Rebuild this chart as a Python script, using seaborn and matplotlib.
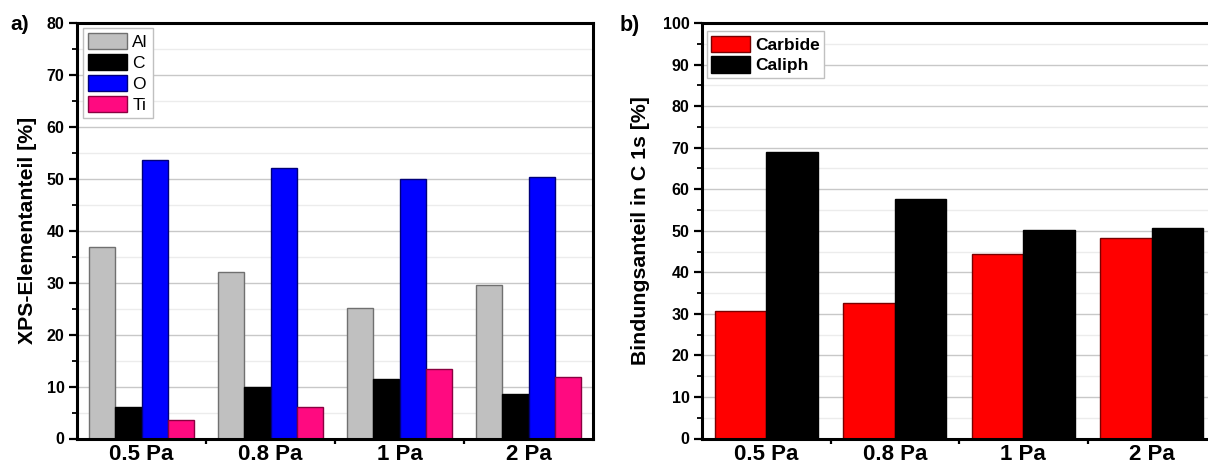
import numpy as np
import pandas as pd
import matplotlib
matplotlib.use("Agg")
import matplotlib.pyplot as plt
from matplotlib.patches import Patch
from matplotlib.ticker import MultipleLocator, FixedLocator
import seaborn as sns

# XPS element fractions per deposition pressure
pressures = ["0.5 Pa", "0.8 Pa", "1 Pa", "2 Pa"]
elements = ["Al", "C", "O", "Ti"]
al_pct = [36.8, 32.0, 25.1, 29.5]
c_pct = [6.0, 9.9, 11.5, 8.5]
o_pct = [53.6, 52.0, 49.9, 50.3]
ti_pct = [3.6, 6.1, 13.4, 11.9]

# Bond fractions within the C 1s signal
bond_types = ["Carbide", "Caliph"]
carbide_pct = [30.8, 32.7, 44.4, 48.3]
caliph_pct = [69.0, 57.6, 50.1, 50.7]

elem_face = ["#c0c0c0", "#000000", "#0000ff", "#ff0a80"]
elem_edge = ["#707070", "#000000", "#00007a", "#8a0040"]
bond_face = ["#ff0000", "#000000"]
bond_edge = ["#7a0000", "#000000"]

df_elem = pd.DataFrame({
    "pressure": np.repeat(pressures, len(elements)),
    "element": elements * len(pressures),
    "value": np.array([al_pct, c_pct, o_pct, ti_pct]).T.ravel(),
})
df_bond = pd.DataFrame({
    "pressure": np.repeat(pressures, len(bond_types)),
    "bond": bond_types * len(pressures),
    "value": np.array([carbide_pct, caliph_pct]).T.ravel(),
})

sns.set_style("white")
plt.rcParams["font.family"] = ["Liberation Sans", "DejaVu Sans"]
plt.rcParams.update({
    "text.color": "black",
    "axes.labelcolor": "black",
    "xtick.color": "black",
    "ytick.color": "black",
})

fig = plt.figure(figsize=(12.08, 4.66), dpi=100)
ax1 = fig.add_axes([77 / 1208, 27.5 / 466, 516 / 1208, 415.5 / 466])
ax2 = fig.add_axes([702 / 1208, 27.5 / 466, 514 / 1208, 415.5 / 466])

sns.barplot(data=df_elem, x="pressure", y="value", hue="element",
            order=pressures, hue_order=elements, palette=elem_face,
            width=0.82, linewidth=1.0, saturation=1, legend=False, ax=ax1)
sns.barplot(data=df_bond, x="pressure", y="value", hue="bond",
            order=pressures, hue_order=bond_types, palette=bond_face,
            width=0.80, linewidth=1.0, saturation=1, legend=False, ax=ax2)

for cont, ec in zip(ax1.containers, elem_edge):
    for bar in cont:
        bar.set_edgecolor(ec)
for cont, ec in zip(ax2.containers, bond_edge):
    for bar in cont:
        bar.set_edgecolor(ec)


def style_axes(ax, ymax, ylabel, label_x):
    ax.set_xlim(-0.5, 3.5)
    ax.set_ylim(0, ymax)
    ax.yaxis.set_major_locator(MultipleLocator(10))
    ax.yaxis.set_minor_locator(MultipleLocator(5))
    ax.xaxis.set_minor_locator(FixedLocator([0.5, 1.5, 2.5]))
    ax.grid(which="major", axis="y", color="#c8c8c8", lw=1.0, zorder=0)
    ax.grid(which="minor", axis="y", color="#ececec", lw=1.0, zorder=0)
    ax.set_axisbelow(True)
    for s in ax.spines.values():
        s.set_visible(True)
        s.set_color("black")
        s.set_linewidth(2.2)
    ax.tick_params(axis="y", which="major", direction="out", length=6,
                   width=1.6, left=True, labelsize=11.5, pad=3, colors="black")
    ax.tick_params(axis="y", which="minor", direction="out", length=3.5,
                   width=1.3, left=True)
    ax.tick_params(axis="x", which="major", length=0, labelsize=16, pad=4,
                   colors="black")
    ax.tick_params(axis="x", which="minor", direction="out", length=3.5,
                   width=1.6, bottom=True)
    for lab in ax.get_yticklabels() + ax.get_xticklabels():
        lab.set_fontweight("bold")
    ax.set_xlabel("")
    ax.set_ylabel(ylabel, fontsize=15.3, fontweight="bold", color="black")
    ax.yaxis.label.set_verticalalignment("center")
    ax.yaxis.set_label_coords(label_x, 0.5)


style_axes(ax1, 80, "XPS-Elementanteil [%]", -0.095)
style_axes(ax2, 100, "Bindungsanteil in C 1s [%]", -0.119)

h1 = [Patch(facecolor=f, edgecolor=e, lw=1.0) for f, e in zip(elem_face, elem_edge)]
leg1 = ax1.legend(h1, elements, loc="upper left", bbox_to_anchor=(0.011, 0.988),
                  fontsize=12.5, handlelength=2.25, handleheight=1.05,
                  labelspacing=0.22, handletextpad=0.3, borderpad=0.3,
                  borderaxespad=0.0, fancybox=False, framealpha=1,
                  edgecolor="#c0c0c0", labelcolor="black")
leg1.get_frame().set_linewidth(1.0)

h2 = [Patch(facecolor=f, edgecolor=e, lw=1.0) for f, e in zip(bond_face, bond_edge)]
leg2 = ax2.legend(h2, bond_types, loc="upper left", bbox_to_anchor=(0.01, 0.98),
                  handlelength=2.2, handleheight=1.08,
                  labelspacing=0.2, handletextpad=0.3, borderpad=0.25,
                  borderaxespad=0.0, fancybox=False, framealpha=1,
                  edgecolor="#c0c0c0", labelcolor="black",
                  prop={"weight": "bold", "size": 12.5})
leg2.get_frame().set_linewidth(1.0)

fig.text(10 / 1208, 1 - 25 / 466, "a)", fontsize=15, fontweight="bold",
         ha="left", va="center", color="black")
fig.text(620 / 1208, 1 - 26 / 466, "b)", fontsize=15.5, fontweight="bold",
         ha="left", va="center", color="black")

fig.savefig("out.png", dpi=100)
